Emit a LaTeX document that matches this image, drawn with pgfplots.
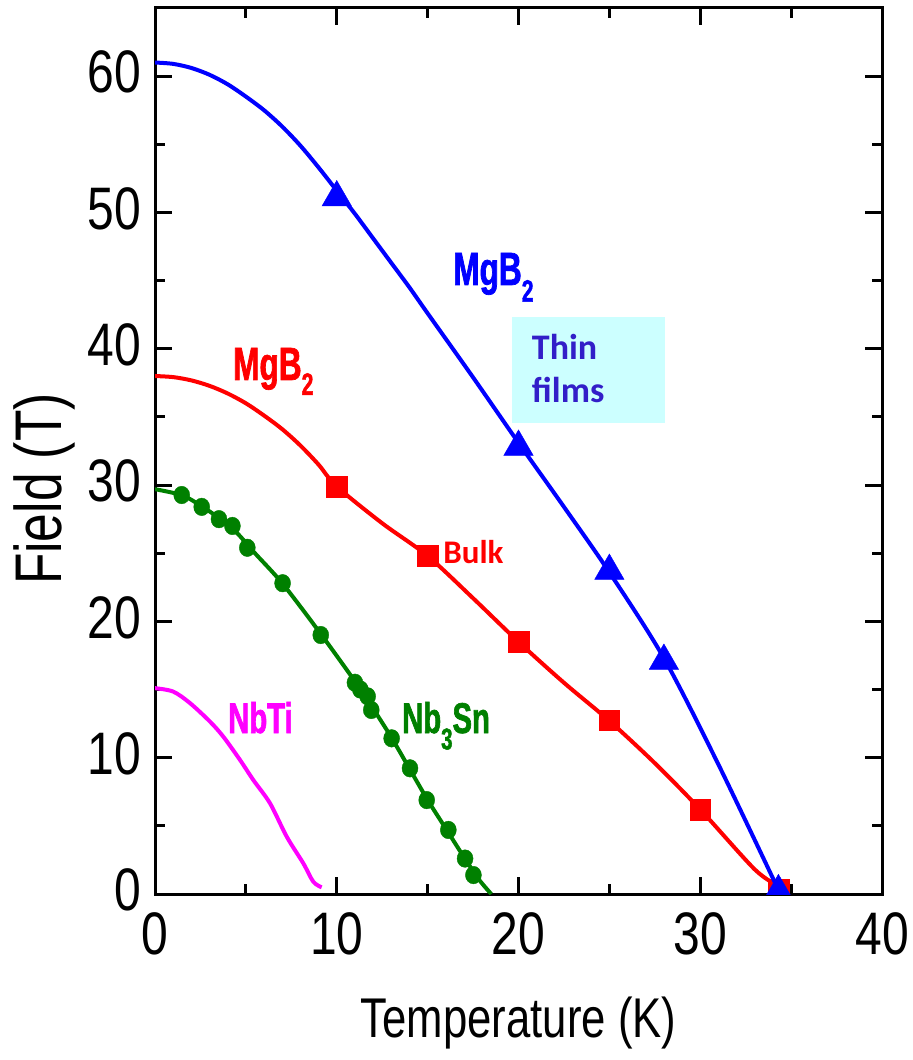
\documentclass[border=0pt]{standalone}
\usepackage{fontspec}
\setmainfont{Liberation Sans}
\usepackage{pgfplots}
\pgfplotsset{compat=1.18}
\newfontfamily\tickfont[FakeStretch=0.80]{Liberation Sans}
\newfontfamily\axlabfont[FakeStretch=0.78]{Liberation Sans}
\newfontfamily\lblfont[FakeStretch=0.68, FakeBold=1.5]{Liberation Sans Bold}
\newfontfamily\calfont{Carlito}
\definecolor{cBlue}{RGB}{0,0,255}
\definecolor{cRed}{RGB}{255,0,0}
\definecolor{cGreen}{RGB}{0,128,0}
\definecolor{cMag}{RGB}{255,0,255}
\definecolor{cBox}{RGB}{204,255,255}
\definecolor{cTxt}{RGB}{50,30,200}
\begin{document}
\begin{tikzpicture}
\begin{axis}[
  scale only axis, width=727pt, height=886pt,
  xmin=0, xmax=40, ymin=0, ymax=65,
  xtick={0,10,20,30,40}, ytick={0,10,20,30,40,50,60},
  minor x tick num=1, minor y tick num=1,
  tick align=inside,
  major tick length=17pt, minor tick length=10pt,
  every tick/.style={black, line width=3pt},
  axis line style={line width=3pt},
  /pgf/number format/assume math mode=true,
  xticklabel style={font=\tickfont\fontsize{60}{60}\selectfont, anchor=base, inner sep=0pt, yshift=-60pt},
  yticklabel style={font=\tickfont\fontsize{60}{60}\selectfont, anchor=east, inner sep=0pt, xshift=-14pt, yshift=4pt},
  xlabel={Temperature (K)},
  xlabel style={font=\axlabfont\fontsize{56}{56}\selectfont, at={(axis description cs:0.5,-0.1625)}, anchor=base, inner sep=0pt},
  ylabel={Field (T)},
  ylabel style={font=\axlabfont\fontsize{66}{66}\selectfont, at={(axis description cs:-0.128,0.457)}, anchor=base, inner sep=0pt},
  clip marker paths=true,
]
% thin films box
\fill[cBox] (axis cs:19.63,34.53) rectangle (axis cs:28.06,42.36);
\node[anchor=base west, inner sep=0pt, text=cTxt, font=\calfont\bfseries\fontsize{36}{36}\selectfont] at (axis cs:20.73,39.23) {Thin};
\node[anchor=base west, inner sep=0pt, text=cTxt, font=\calfont\bfseries\fontsize{36}{36}\selectfont] at (axis cs:20.73,36.05) {films};

% NbTi
\addplot[cMag, line width=4pt, smooth, no marks] coordinates {
(0,15.1) (1.0,14.85) (1.93,14.0) (3.03,12.64) (3.76,11.54) (4.68,9.83) (5.41,8.36) (6.33,6.65) (7.25,4.2) (8.16,2.25) (8.71,0.9) (9.17,0.49)
};

% Nb3Sn line
\addplot[cGreen, line width=4pt, smooth, no marks] coordinates {
(0,29.7) (1.5,29.25) (2.5,28.5) (3.5,27.6) (4.5,26.5) (5.5,25.0) (7,22.8) (9,19.3) (11,15.6) (12,13.6) (13,11.5) (14,9.2) (15,6.9) (16,4.8) (17,2.7) (17.8,1.1) (18.5,0)
};
% Nb3Sn markers
\addplot[cGreen, only marks, mark=*, mark size=8pt, mark options={fill=cGreen, draw=cGreen, yscale=1.1}] coordinates {
(1.47,29.27) (2.57,28.4) (3.52,27.5) (4.26,27.0) (5.08,25.4) (7.02,22.8) (9.12,19.0) (11.0,15.5) (11.3,15.0) (11.7,14.5) (11.9,13.5) (13.02,11.42) (14.03,9.22) (14.95,6.89) (16.14,4.7) (17.06,2.6) (17.52,1.39)
};

% MgB2 bulk line
\addplot[cRed, line width=4pt, smooth, no marks] coordinates {
(0,38.0) (1,37.92) (2,37.68) (3,37.28) (4,36.72) (5,36.0) (6,35.1) (7,34.1) (8,32.9) (9,31.5) (10,29.9) (12.5,27.2) (15,24.8) (17.5,21.7) (20,18.5) (22.5,15.5) (25,12.7) (27.5,9.6) (30,6.2) (33,1.8) (34.3,0.6)
};
\addplot[cRed, only marks, mark=square*, mark size=10.3pt, mark options={fill=cRed, draw=cRed}] coordinates {
(10,29.9) (15,24.8) (20,18.5) (25,12.75) (30,6.2) (34.3,0.3)
};

% MgB2 thin film line
\addplot[cBlue, line width=4pt, smooth, no marks] coordinates {
(0,61.0) (1,60.9) (2,60.6) (3,60.1) (4,59.4) (5,58.5) (6,57.5) (7,56.3) (8,54.9) (9,53.3) (10,51.6) (11,49.9) (12,48.1) (13,46.3) (14,44.5) (15,42.6) (17.5,37.9) (20,33.1) (22.5,28.4) (25,23.6) (28,17.3) (31,9.5) (34.3,0.3)
};
\addplot[cBlue, only marks, mark=triangle*, mark size=17pt, mark options={fill=cBlue, draw=cBlue}] coordinates {
(10,51.1) (20,32.8) (25,23.7) (28,17.1) (34.3,0.2)
};

% labels
\node[anchor=base west, inner sep=0pt, text=cBlue, font=\lblfont\fontsize{46.5}{46.5}\selectfont] at (axis cs:16.40,44.68) {MgB\lower0.36em\hbox{\fontsize{31}{31}\selectfont 2}};
\node[anchor=base west, inner sep=0pt, text=cRed, font=\lblfont\fontsize{46.5}{46.5}\selectfont] at (axis cs:4.29,37.71) {MgB\lower0.32em\hbox{\fontsize{31}{31}\selectfont 2}};
\node[anchor=base west, inner sep=0pt, text=cMag, font=\lblfont\fontsize{43}{43}\selectfont] at (axis cs:4.02,11.81) {NbTi};
\node[anchor=base west, inner sep=0pt, text=cGreen, font=\lblfont\fontsize{43}{43}\selectfont] at (axis cs:13.59,11.81) {Nb\lower0.38em\hbox{\fontsize{30}{30}\selectfont 3}Sn};
\node[anchor=base west, inner sep=0pt, text=cRed, font=\calfont\bfseries\fontsize{33}{33}\selectfont] at (axis cs:15.85,24.28) {Bulk};
\end{axis}
\pgfresetboundingbox
\useasboundingbox ([shift={(-155pt,-166pt)}]current axis.south west) rectangle ([shift={(31pt,8pt)}]current axis.north east);
\end{tikzpicture}
\end{document}
